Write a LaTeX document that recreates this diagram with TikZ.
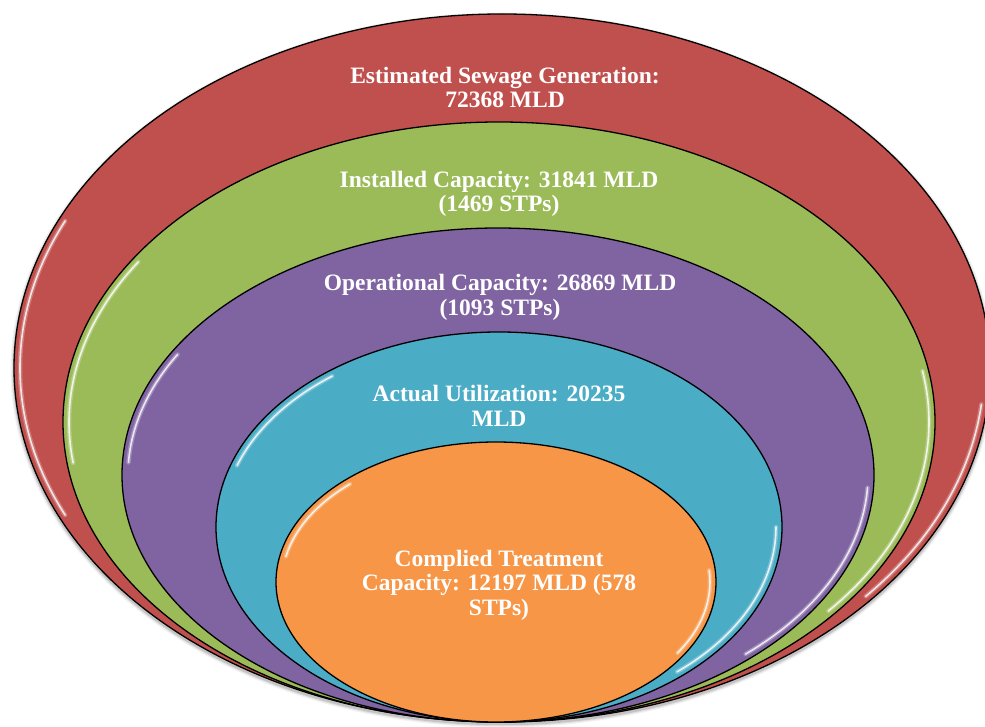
\documentclass[tikz,border=0pt]{standalone}
\usepackage{fontspec}
\setmainfont{Liberation Serif}
\usetikzlibrary{shapes.geometric}
\definecolor{cRed}{HTML}{C0504D}
\definecolor{cGreen}{HTML}{9BBB59}
\definecolor{cPurple}{HTML}{8064A2}
\definecolor{cBlue}{HTML}{4BACC6}
\definecolor{cOrange}{HTML}{F79646}
\begin{document}
\begin{tikzpicture}[x=1pt,y=1pt,
  ring/.style={ellipse, draw=black, line width=1.3pt, inner sep=0pt, outer sep=0pt},
  lbl/.style={text=white, font=\bfseries\fontsize{23.5}{24.3}\selectfont, align=center, inner sep=0pt},
  glint/.style={draw=white, line width=1.6pt, opacity=0.8, line cap=round},
  softglint/.style={draw=white, line width=4.5pt, opacity=0.25, line cap=round},
  haze/.style={draw=black, line cap=round}]
\useasboundingbox (0,0) rectangle (985,726);

% soft shadow under the outer ring
\foreach \w/\o in {7/0.05,4.5/0.08,2.5/0.12}{
  \draw[haze, line width=\w pt, opacity=\o] (502,356) ellipse [x radius=488, y radius=354];
}

% rings
\node[ring, fill=cRed,    minimum width=976, minimum height=708] (red)    at (502,358) {};
\node[ring, fill=cGreen,  minimum width=872, minimum height=600] (green)  at (499,304) {};
\node[ring, fill=cPurple, minimum width=752, minimum height=494] (purple) at (498,251) {};
\node[ring, fill=cBlue,   minimum width=566, minimum height=390] (blue)   at (499,199) {};
\node[ring, fill=cOrange, minimum width=440, minimum height=280] (orange) at (496,144) {};

% glossy highlights
\foreach \n/\rx/\ry/\a/\b/\c/\d in {
  red/482/348/155/205/-41/-6,
  green/430/294/147/188/-40/10,
  purple/370/241/150/177/-48/-3,
  blue/277/189/127/161/-50/0,
  orange/214/134/133/169/-32/5}{
  \draw[softglint] (\n.center) ++({\rx*cos(\a)},{\ry*sin(\a)}) arc[start angle=\a, end angle=\b, x radius=\rx, y radius=\ry];
  \draw[glint] (\n.center) ++({\rx*cos(\a)},{\ry*sin(\a)}) arc[start angle=\a, end angle=\b, x radius=\rx, y radius=\ry];
  \draw[softglint] (\n.center) ++({\rx*cos(\c)},{\ry*sin(\c)}) arc[start angle=\c, end angle=\d, x radius=\rx, y radius=\ry];
  \draw[glint] (\n.center) ++({\rx*cos(\c)},{\ry*sin(\c)}) arc[start angle=\c, end angle=\d, x radius=\rx, y radius=\ry];
}

% labels
\node[lbl] (tRed)    at (505,638.7) {Estimated Sewage Generation:\\72368 MLD};
\node[lbl] (tGreen)  at (499,532.3) {Installed Capacity: 31841 MLD\\(1469 STPs)};
\node[lbl] (tPurple) at (500,428.7) {Operational Capacity: 26869 MLD\\(1093 STPs)};
\node[lbl] (tBlue)   at (499,320)   {Actual Utilization: 20235\\MLD};
\node[lbl] (tOrange) at (499,140.8) {Complied Treatment\\Capacity: 12197 MLD (578\\STPs)};
\end{tikzpicture}
\end{document}
